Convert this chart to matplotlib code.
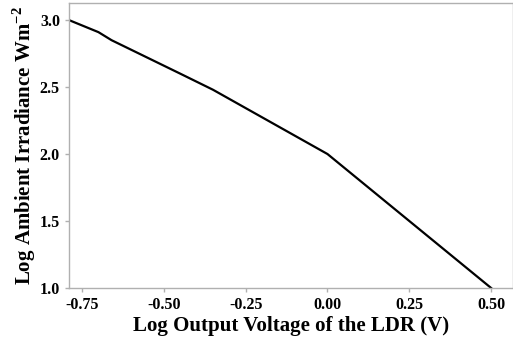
import matplotlib
matplotlib.use("Agg")
from matplotlib import pyplot as plt

# log output voltage (V) vs log ambient irradiance
log_volt = [-0.79, -0.70, -0.66, -0.45, -0.35, 0.00, 0.50]
log_irr = [3.00, 2.91, 2.85, 2.60, 2.48, 2.00, 1.00]

xticks = [-0.75, -0.50, -0.25, 0.00, 0.25, 0.50]
yticks = [1.0, 1.5, 2.0, 2.5, 3.0]

plt.rcParams['font.family'] = ['Liberation Serif', 'DejaVu Serif']
plt.rcParams['font.weight'] = 'bold'
plt.rcParams['mathtext.fontset'] = 'custom'
plt.rcParams['mathtext.rm'] = 'Liberation Serif:bold'
plt.rcParams['mathtext.bf'] = 'Liberation Serif:bold'

fig = plt.figure(figsize=(5.13, 3.42), dpi=100)
ax = fig.add_axes([0.1345, 0.158, 0.8655, 0.833])

ax.plot(log_volt, log_irr, color='black', linewidth=1.6)

ax.set_xlim(-0.79, 0.567)
ax.set_ylim(1.0, 3.127)
ax.set_xticks(xticks)
ax.set_xticklabels(['%.2f' % v for v in xticks])
ax.set_yticks(yticks)
ax.set_yticklabels(['%.1f' % v for v in yticks])

for s in ax.spines.values():
    s.set_color('#b0b0b0')
    s.set_linewidth(1.0)
ax.tick_params(colors='#b0b0b0', length=3, width=1, labelcolor='black', labelsize=11.5)
for lab in ax.get_xticklabels() + ax.get_yticklabels():
    lab.set_fontweight('bold')

ax.set_xlabel('Log Output Voltage of the LDR (V)', fontsize=15, fontweight='bold')
ax.set_ylabel('Log Ambient Irradiance Wm$^{\\mathbf{-2}}$', fontsize=15, fontweight='bold')
ax.xaxis.set_label_coords(0.5, -0.099)
ax.yaxis.set_label_coords(-0.07, 0.5)

fig.savefig('out.png', dpi=100)
